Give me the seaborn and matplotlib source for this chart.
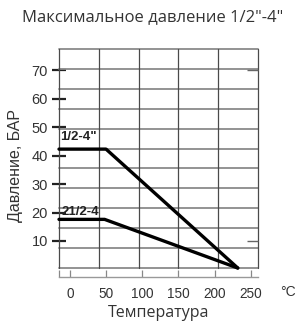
import numpy as np
import pandas as pd
import seaborn as sns
import matplotlib.pyplot as plt

# pressure/temperature limits
temp_big = [-15, 50, 232]
pres_big = [42.3, 42.3, 0.5]
temp_small = [-15, 48, 232]
pres_small = [17.6, 17.6, 0.5]
series_labels = ['1/2-4"', '21/2-4']

y_ticks = [10, 20, 30, 40, 50, 60, 70]
x_ticks = [-15, 0, 50, 100, 150, 200, 250]
x_tick_labels = ['', '0', '50', '100', '150', '200', '250']

df = pd.DataFrame({
    'temp': temp_big + temp_small,
    'pres': pres_big + pres_small,
    'series': [series_labels[0]] * 3 + [series_labels[1]] * 3,
})

sns.set_theme(style='white')
plt.rcParams['font.family'] = ['Liberation Sans', 'DejaVu Sans']
geo = ['Open Sans', 'DejaVu Sans']

fig = plt.figure(figsize=(2.96, 3.22), dpi=100)
ax = fig.add_axes([59 / 296, 1 - 268 / 322, 199 / 296, 219 / 322])

# grid drawn as a chart-paper box
for yv in np.arange(0.5, 78, 7):
    ax.axhline(yv, color='#8a8a8a', lw=1.3, zorder=1, clip_on=False)
for xv in np.linspace(-15, 260, 6):
    ax.axvline(xv, color='#4a4a4a', lw=0.9, zorder=1, clip_on=False)

sns.lineplot(data=df, x='temp', y='pres', units='series', estimator=None,
             color='black', lw=2.4, ax=ax, legend=False, zorder=3, clip_on=False,
             sort=False)

ax.set_xlim(-15, 260)
ax.set_ylim(0.5, 77.5)

for s in ['top', 'right', 'left']:
    ax.spines[s].set_visible(False)
ax.spines['bottom'].set_position(('outward', 6.5))
ax.spines['bottom'].set_color('#999999')
ax.spines['bottom'].set_linewidth(1.0)

ax.set_yticks(y_ticks)
ax.set_yticklabels([str(v) for v in y_ticks])
ax.tick_params(axis='y', direction='inout', length=10, width=1.6, color='#222222',
               labelsize=10.5, labelcolor='#333333', pad=3, left=True)
ax.set_xticks(x_ticks)
ax.set_xticklabels(x_tick_labels)
ax.tick_params(axis='x', direction='in', length=5, width=0.9, color='#888888',
               labelsize=9.8, labelcolor='#333333', pad=7, bottom=True)

# small inward ticks on the right border
ax2 = ax.twinx()
ax2.set_ylim(ax.get_ylim())
ax2.set_yticks([10, 70])
ax2.set_yticklabels([])
ax2.tick_params(axis='y', direction='in', length=8, width=1.0, color='#666666', right=True)
for s in ax2.spines.values():
    s.set_visible(False)

ax.text(-14, 46.5, series_labels[0], fontsize=9.5, fontweight='bold', color='#222222',
        va='center', ha='left', zorder=4)
ax.text(-11, 20.2, series_labels[1], fontsize=9.5, fontweight='bold', color='#222222',
        va='center', ha='left', zorder=4)

ax.set_ylabel('')
ax.set_xlabel('')
fig.text(16 / 296, 1 - 165 / 322, 'Давление, БАР', fontsize=11.5, color='#333333',
         rotation=90, ha='center', va='center')
fig.text(159 / 296, 1 - 313 / 322, 'Температура', fontsize=11.5, color='#333333',
         ha='center', va='center', family=geo)
fig.text(288 / 296, 1 - 292 / 322, '°C', fontsize=10, color='#333333',
         ha='center', va='center')
fig.text(153 / 296, 1 - 17 / 322, 'Максимальное давление 1/2"-4"', fontsize=12,
         color='#333333', ha='center', va='center', family=geo)

fig.savefig('out.png', dpi=100)
